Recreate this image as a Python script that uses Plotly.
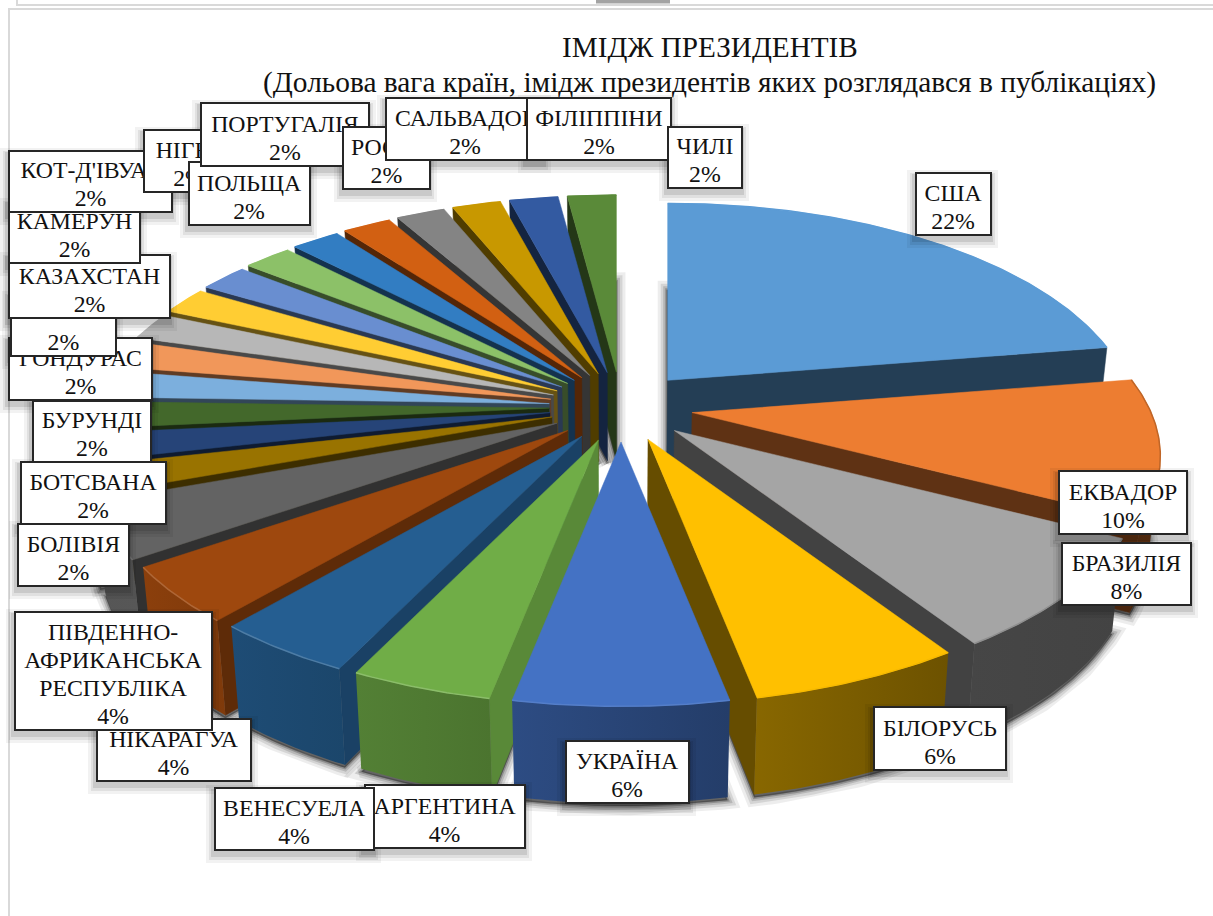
import numpy as np
import plotly.graph_objects as go

countries = ["США", "ЕКВАДОР", "БРАЗИЛІЯ", "БІЛОРУСЬ", "УКРАЇНА", "АРГЕНТИНА", "ВЕНЕСУЕЛА", "НІКАРАГУА",
             "ПІВДЕННО-<br>АФРИКАНСЬКА<br>РЕСПУБЛІКА", "БОЛІВІЯ", "БОТСВАНА", "БУРУНДІ", "ГОНДУРАС", "&nbsp;",
             "КАЗАХСТАН", "КАМЕРУН", "КОТ-Д'ІВУАР", "НІГЕР", "ПОЛЬЩА", "ПОРТУГАЛІЯ", "РОСІЯ", "САЛЬВАДОР",
             "ФІЛІППІНИ", "ЧИЛІ"]
shares = [22, 10, 8, 6, 6, 4, 4, 4, 4, 2, 2, 2, 2, 2, 2, 2, 2, 2, 2, 2, 2, 2, 2, 2]
colors = ["#5b9bd5", "#ed7d31", "#a5a5a5", "#ffc000", "#4472c4", "#70ad47",
          "#255e91", "#9e480e", "#636363", "#997300", "#264478", "#43682b",
          "#7cafdd", "#f1975a", "#b7b7b7", "#ffcd33", "#698ed0", "#8cc168",
          "#327dc2", "#d26012", "#848484", "#c89800", "#335aa1", "#5a8a39"]
# label boxes: left, top, right, bottom
boxes = [(915, 172, 992, 236), (1058, 470, 1188, 535), (1061, 542, 1192, 606), (873, 706, 1007, 771),
         (565, 740, 690, 804), (364, 784, 526, 849), (214, 787, 375, 851), (96, 718, 252, 782),
         (14, 611, 213, 731), (17, 523, 130, 587), (20, 461, 167, 525), (32, 400, 152, 463),
         (8, 337, 153, 401), (10, 293, 117, 357), (8, 254, 171, 319), (8, 200, 141, 264),
         (8, 150, 173, 213), (143, 129, 235, 193), (188, 161, 311, 226), (200, 102, 370, 167),
         (342, 126, 431, 190), (385, 97, 545, 161), (526, 97, 672, 161), (667, 126, 743, 189)]

FONT = "Liberation Serif"
CX, CY, EX, EY = 621.0, 407.0, 72.0, 35.0      # explosion ellipse
A, B, K = 459.0, 212.0, 0.198                   # perspective of the disc


def hex_rgb(c):
    return np.array([int(c[i:i + 2], 16) for i in (1, 3, 5)], float)


def shade(c, f):
    rgb = hex_rgb(c)
    if f <= 1:
        rgb = rgb * f
    else:
        rgb = rgb + (255 - rgb) * (f - 1)
    r, g, b = [int(round(min(255, max(0, v)))) for v in rgb]
    return f"rgb({r},{g},{b})"


def rim(ax, ay, t):
    u, v = np.sin(t), -np.cos(t)
    s = 1 / (1 - K * v)
    return ax + A * u * s, ay + B * v * s


def drop(x, y):
    return x - (x - 620) * 0.02, y + 88 + (y - 372) * 0.027


def outer_factor(deg):
    return np.interp(deg, [0, 90, 130, 158, 180, 198, 213, 228, 242, 260, 360],
                     [.5, .45, .39, .45, .62, .7, .78, .83, .93, .8, .5])


def cut_factor(deg):
    if deg < 185:
        return 0.40
    return max(0.40, 0.8 - (deg - 190) * 0.0067)


def bevel_factor(deg):
    return np.interp(deg, [0, 60, 100, 140, 170, 200, 240, 280, 360],
                     [1, 1, .8, .88, 1.03, 1.2, 1.15, 1, 1])


def faces_visible(p, q, ref):
    dx, dy = q[0] - p[0], q[1] - p[1]
    nx, ny = dy, -dx
    if nx * (ref[0] - p[0]) + ny * (ref[1] - p[1]) > 0:
        nx, ny = -nx, -ny
    return ny > 0


fig = go.Figure()
total = sum(shares)
cum = np.cumsum([0] + shares) / total * 2 * np.pi
slices = []
for i, col in enumerate(colors):
    t0, t1 = cum[i], cum[i + 1]
    m = (t0 + t1) / 2
    ax, ay = CX + EX * np.sin(m), CY - EY * np.cos(m)
    ts = np.linspace(t0, t1, max(6, int(shares[i] * 6)))
    rx, ry = rim(ax, ay, ts)
    slices.append(dict(i=i, t0=t0, t1=t1, m=m, ax=ax, ay=ay, ts=ts, rx=rx, ry=ry, col=col))

# soft shadow under the solids
sx, sy = [], []
for s in slices:
    bx, by = drop(np.r_[s["ax"], s["rx"]], np.r_[s["ay"], s["ry"]])
    sx += list(bx) + [bx[0], None]
    sy += list(by + 3) + [by[0] + 3, None]
for w, al in [(18, .07), (12, .10), (7, .14), (3, .22)]:
    fig.add_trace(go.Scatter(x=sx, y=sy, mode="lines", fill="toself",
                             fillcolor=f"rgba(0,0,0,{al})", line=dict(color=f"rgba(0,0,0,{al})", width=w),
                             hoverinfo="skip", showlegend=False))

for s in sorted(slices, key=lambda d: d["ay"]):
    col, ax, ay, rx, ry, ts = s["col"], s["ax"], s["ay"], s["rx"], s["ry"], s["ts"]
    mid = (rx[len(rx) // 2], ry[len(ry) // 2])
    centroid = ((ax + mid[0]) / 2, (ay + mid[1]) / 2)
    # cut faces
    for j, deg in [(0, np.degrees(s["t0"])), (-1, np.degrees(s["t1"]))]:
        p, q = (ax, ay), (rx[j], ry[j])
        if faces_visible(p, q, centroid):
            px, py = drop(np.array([ax, rx[j]]), np.array([ay, ry[j]]))
            fc = shade(col, cut_factor(deg) if j == 0 else 0.40)
            fig.add_trace(go.Scatter(x=[ax, rx[j], px[1], px[0], ax], y=[ay, ry[j], py[1], py[0], ay],
                                     mode="lines", fill="toself", fillcolor=fc,
                                     line=dict(color=fc, width=0.5), hoverinfo="skip", showlegend=False))
    # outer wall, only the parts that face the viewer
    vis = [faces_visible((rx[k], ry[k]), (rx[k + 1], ry[k + 1]), centroid) for k in range(len(rx) - 1)]
    k = 0
    while k < len(vis):
        if vis[k]:
            e = k
            while e + 1 < len(vis) and vis[e + 1]:
                e += 1
            xs, ys = rx[k:e + 2], ry[k:e + 2]
            bx, by = drop(xs, ys)
            c_a = shade(col, outer_factor(np.degrees(ts[k])))
            c_b = shade(col, outer_factor(np.degrees(ts[e + 1])))
            lo, hi = (c_b, c_a) if xs[0] > xs[-1] else (c_a, c_b)
            fig.add_trace(go.Scatter(x=list(xs) + list(bx[::-1]) + [xs[0]], y=list(ys) + list(by[::-1]) + [ys[0]],
                                     mode="lines", fill="toself",
                                     fillgradient=dict(type="horizontal", colorscale=[[0, lo], [1, hi]]),
                                     line=dict(width=0), hoverinfo="skip", showlegend=False))
            k = e + 1
        else:
            k += 1
    # top surface
    fig.add_trace(go.Scatter(x=[ax] + list(rx) + [ax], y=[ay] + list(ry) + [ay], mode="lines", fill="toself",
                             fillcolor=col, line=dict(color=col, width=0.5), hoverinfo="skip", showlegend=False))
    # bevel along the rim
    deg = np.degrees(s["m"])
    fig.add_trace(go.Scatter(x=rx, y=ry, mode="lines", line=dict(color=shade(col, bevel_factor(deg)), width=1.5),
                             hoverinfo="skip", showlegend=False))

shapes = []
# page frames
for x0, y0, x1, y1 in [(17, -2, 1240, 5), (9, 9, 1240, 930)]:
    shapes.append(dict(type="rect", xref="x", yref="y", x0=x0, y0=y0, x1=x1, y1=y1,
                       line=dict(color="#d9d9d9", width=2), fillcolor="rgba(0,0,0,0)", layer="below"))
shapes.append(dict(type="rect", xref="x", yref="y", x0=596, y0=-1, x1=670, y1=3.5,
                   line=dict(width=0), fillcolor="#a3a3a3", layer="below"))

annotations = [
    dict(text="ІМІДЖ ПРЕЗИДЕНТІВ", x=710, y=47, xref="x", yref="y", showarrow=False,
         font=dict(family=FONT, size=29.2, color="#111111")),
    dict(text="(Дольова вага країн, імідж президентів яких розглядався в публікаціях)", x=709, y=82,
         xref="x", yref="y", showarrow=False, font=dict(family=FONT, size=29.4, color="#111111")),
]


def big(line):
    return f'<span style="font-size:23.8px">{line}</span>'


for name, share, (l, t, r, b) in zip(countries, shares, boxes):
    for pad, al, dy in [(7, .05, 5), (4, .07, 5), (2, .10, 4)]:
        shapes.append(dict(type="rect", xref="x", yref="y", x0=l - pad - 1, y0=t - pad + dy, x1=r + pad - 1, y1=b + pad + dy,
                           line=dict(width=0), fillcolor=f"rgba(0,0,0,{al})", layer="above"))
    body = "<br>".join(big(part) for part in name.split("<br>") + [f"{share}%"])
    annotations.append(dict(text=body, x=l, y=t, xref="x", yref="y", xanchor="left", yanchor="top",
                            showarrow=False, align="center", valign="bottom", width=r - l - 4, height=b - t - 4,
                            borderwidth=2, borderpad=0, bordercolor="#262626", bgcolor="#ffffff",
                            font=dict(family=FONT, size=21.5, color="#111111")))

fig.update_layout(width=1213, height=916, margin=dict(l=0, r=0, t=0, b=0, pad=0),
                  paper_bgcolor="#ffffff", plot_bgcolor="#ffffff", showlegend=False,
                  xaxis=dict(range=[0, 1213], visible=False, fixedrange=True),
                  yaxis=dict(range=[916, 0], visible=False, fixedrange=True),
                  shapes=shapes, annotations=annotations)
fig.write_html("out.html", config={"displayModeBar": False},
               post_script="document.body.style.margin='0';document.body.style.overflow='hidden';")
